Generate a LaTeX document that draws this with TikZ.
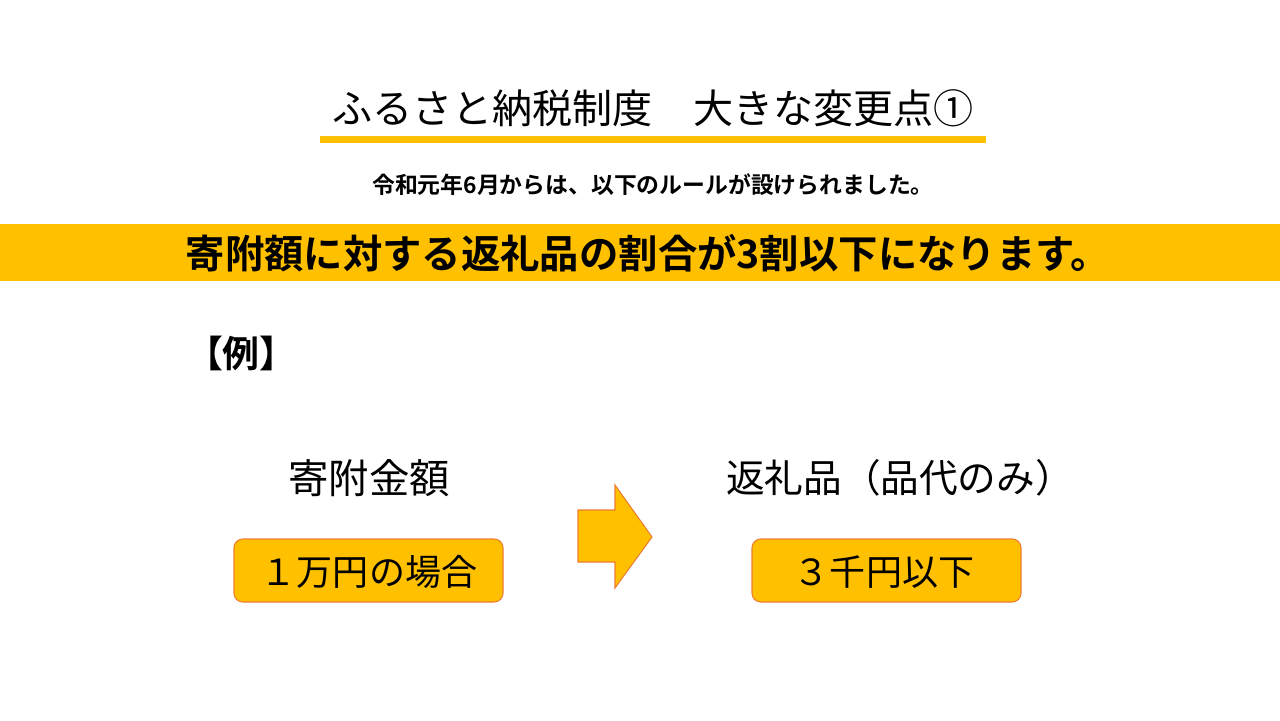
\documentclass[tikz,border=0pt]{standalone}
\usepackage{fontspec}
\setmainfont{Noto Sans CJK JP}
\newfontfamily\jpbold{Noto Sans CJK JP}[UprightFont=* Bold]
\definecolor{gold}{HTML}{FFC000}
\definecolor{edge}{HTML}{ED7D31}
\begin{document}
\begin{tikzpicture}[x=0.02cm,y=-0.02cm,
  every node/.style={inner sep=0pt,outer sep=0pt},
  valbox/.style={draw=edge,line width=0.6pt,fill=gold,rounded corners=5pt},
  big/.style={font=\fontsize{20.5}{24}\selectfont},
]
\useasboundingbox[fill=white] (0,0) rectangle (1280,720);
% title
\node[font=\fontsize{22.8}{26}\selectfont] (title) at (653,108) {ふるさと納税制度　大きな変更点①};
\fill[gold] (320,136) rectangle (986,143);
\node[font=\jpbold\fontsize{13}{15}\selectfont] (sub) at (653,185) {令和元年6月からは、以下のルールが設けられました。};
% banner
\fill[gold] (0,224) rectangle (1280,281);
\node[font=\jpbold\fontsize{22.4}{26}\selectfont] (banner) at (648,253) {寄附額に対する返礼品の割合が3割以下になります。};
% example
\node[font=\jpbold\fontsize{21}{24}\selectfont,anchor=west] (ex) at (186,353) {【例】};
% labels
\node[font=\fontsize{23}{26}\selectfont] (l1) at (369,478) {寄附金額};
\node[font=\fontsize{22}{26}\selectfont] (l2) at (900,478) {返礼品（品代のみ）};
% boxes
\draw[valbox] (234,539) rectangle (503,602);
\node[big] (b1) at (369,572) {１万円の場合};
\draw[valbox] (752,539) rectangle (1021,602);
\node[big] (b2) at (884,572) {３千円以下};
% arrow
\draw[draw=edge,line width=0.6pt,fill=gold] (578,510) -- (615,510) -- (615,485) -- (652,537) -- (615,588) -- (615,562) -- (578,562) -- cycle;
\end{tikzpicture}
\end{document}
